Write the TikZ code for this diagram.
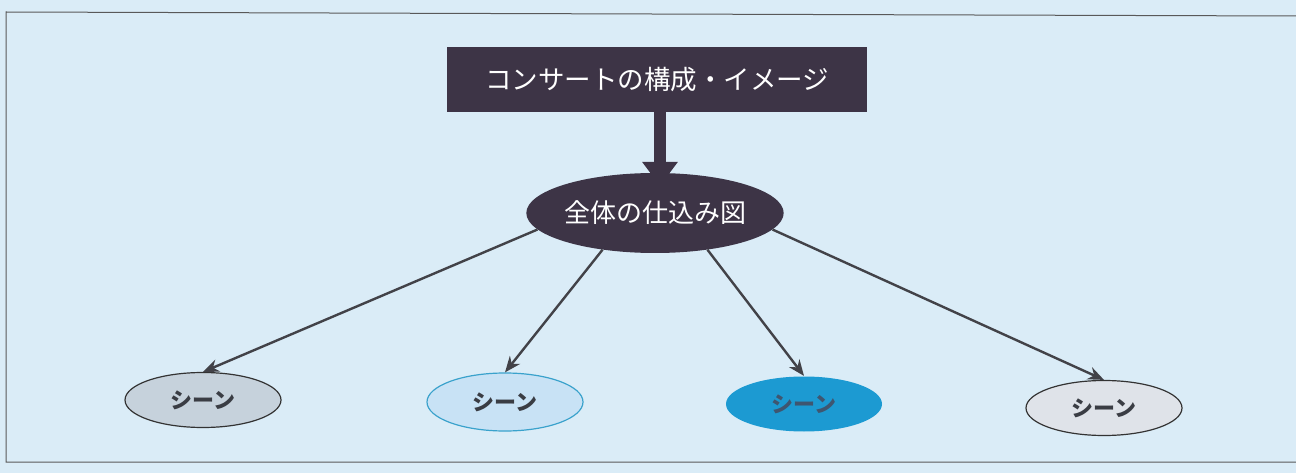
\documentclass[tikz,border=0pt]{standalone}
\usepackage{fontspec}
\newfontfamily\jp{Noto Sans CJK JP}
\usetikzlibrary{arrows.meta,shapes.geometric}
\definecolor{bg}{HTML}{DAECF7}
\definecolor{dark}{HTML}{3D3446}
\definecolor{arr}{HTML}{424248}
\definecolor{txt}{HTML}{3A3D44}
\definecolor{txtC}{HTML}{3F5670}
\definecolor{sceneA}{HTML}{C6D2DC}
\definecolor{sceneB}{HTML}{C8E2F5}
\definecolor{sceneBline}{HTML}{3AA2CC}
\definecolor{sceneC}{HTML}{1C9AD2}
\definecolor{sceneD}{HTML}{DFE3E9}
\tikzset{
  scene/.style={ellipse, minimum width=156pt, minimum height=55pt, inner sep=0pt,
    font=\jp\bfseries\fontsize{22}{22}\selectfont, text=txt, line width=1.2pt},
  conn/.style={draw=arr, line width=2.4pt, -{Stealth[length=16pt,width=13pt]}}
}
\begin{document}
\begin{tikzpicture}[x=1pt,y=-1pt]
\useasboundingbox (0,0) rectangle (1296,473);
\fill[bg] (0,0) rectangle (1296,473);
\draw[gray!70!black, line width=1pt] (1296,16) -- (6,12) -- (6,462) -- (1296,462);

\node[fill=dark, text=white, minimum width=420pt, minimum height=65pt, inner sep=0pt,
  font=\jp\fontsize{26.5}{26.5}\selectfont] (title) at (657,79.5) {コンサートの構成・イメージ};

\node[ellipse, fill=dark, text=white, minimum width=230pt, minimum height=80pt, inner sep=0pt,
  font=\jp\fontsize{26}{26}\selectfont] (whole) at (655,213) {全体の仕込み図};

\draw[dark, line width=12pt, -{Triangle[length=24pt,width=34pt]}] (title.south -| 660,0) -- (660,186);

\node[scene, fill=sceneA, draw=black!80] (s1) at (203,400) {シーン};
\node[scene, fill=sceneB, draw=sceneBline, minimum height=58pt] (s2) at (505,402) {シーン};
\node[scene, fill=sceneC, text=txtC] (s3) at (804,404) {シーン};
\node[scene, fill=sceneD, draw=black!80] (s4) at (1104,408) {シーン};

\draw[conn] (whole.188) -- (s1.north);
\draw[conn] (whole.215) -- (s2.north);
\draw[conn] (whole.325) -- (s3.north);
\draw[conn] (whole.352) -- (s4.north);
\end{tikzpicture}
\end{document}
